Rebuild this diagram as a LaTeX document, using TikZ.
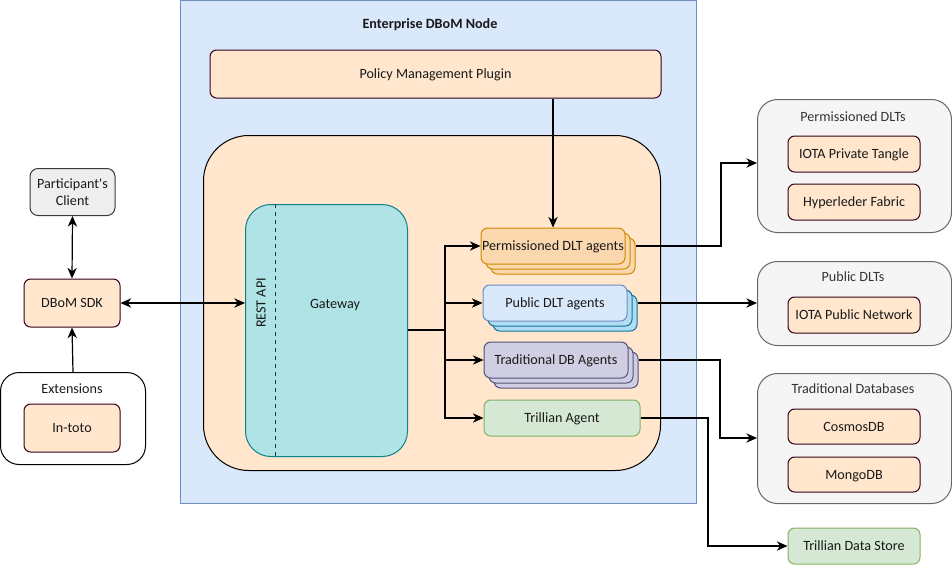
\documentclass[tikz,border=0pt]{standalone}
\usepackage{fontspec}
\setmainfont{Carlito}[Ligatures=TeXOff]
\usetikzlibrary{arrows.meta}
\definecolor{bfill}{HTML}{DAE8FC}
\definecolor{bstroke}{HTML}{6C8EBF}
\definecolor{peach}{HTML}{FFE6CC}
\definecolor{maroon}{HTML}{330019}
\definecolor{ofill}{HTML}{FAD7AC}
\definecolor{ostroke}{HTML}{D08A00}
\definecolor{lbfill}{HTML}{B1DDF0}
\definecolor{lbstroke}{HTML}{10739E}
\definecolor{pfill}{HTML}{D0CEE2}
\definecolor{pstroke}{HTML}{56517E}
\definecolor{gfill}{HTML}{D5E8D4}
\definecolor{gstroke}{HTML}{82B366}
\definecolor{grfill}{HTML}{F5F5F5}
\definecolor{grstroke}{HTML}{666666}
\definecolor{grtext}{HTML}{333333}
\definecolor{clfill}{HTML}{EEEEEE}
\definecolor{clstroke}{HTML}{36393D}
\definecolor{gwfill}{HTML}{B0E3E6}
\definecolor{gwstroke}{HTML}{0E8088}
\tikzset{
  every node/.style={font=\fontsize{10.6}{12.5}\selectfont, inner sep=0pt, text=black!90},
  lowtext/.style={text depth=0pt},
  wh/.style 2 args={minimum width=#1*0.75pt, minimum height=#2*0.75pt},
  box/.style={draw=maroon, fill=peach, rounded corners=5pt, line width=0.75pt, lowtext},
  grp/.style={draw=grstroke, fill=grfill, rounded corners=15pt, line width=0.75pt},
  grptitle/.style={text=grtext},
  agent/.style={rounded corners=5pt, line width=0.75pt, wh={144}{36}, lowtext},
  conn/.style={line width=0.9pt, draw=black},
  arr/.style={conn, -{Stealth[length=8pt,width=7pt,inset=2.5pt]}},
  darr/.style={conn, {Stealth[length=8pt,width=7pt,inset=2.5pt]}-{Stealth[length=8pt,width=7pt,inset=2.5pt]}}
}
\begin{document}
\begin{tikzpicture}[x=0.75pt,y=-0.75pt]
\useasboundingbox (0,0) rectangle (952,565);

% Enterprise node
\node[draw=bstroke, fill=bfill, line width=0.75pt, wh={516}{503}, anchor=north west] (ent) at (180,0) {};
\node[font=\fontsize{10.6}{12.5}\selectfont\bfseries] (enttitle) at (430,25) {Enterprise DBoM Node};
\node[box, wh={451}{48}] (pmp) at (435.5,74) {Policy Management Plugin};
\node[draw=black, fill=peach, rounded corners=34pt, line width=0.75pt, wh={457}{335}, anchor=north west] (core) at (203,135) {};

% Gateway
\node[draw=gwstroke, fill=gwfill, rounded corners=19pt, line width=0.75pt, wh={162}{252}, anchor=north west] (gw) at (245,204) {};
\draw[dashed, line width=0.75pt, draw=black!80] ([xshift=22.5pt]gw.north west) -- ([xshift=22.5pt]gw.south west);
\node[rotate=90] (rest) at (261,303) {REST API};
\node[lowtext] (gwlabel) at (335,304) {Gateway};

% Permissioned DLT agents (stack)
\node[agent, draw=ostroke, fill=ofill] (pa2) at (563,256) {};
\node[agent, draw=ostroke, fill=ofill] (pa1) at (558,251) {};
\node[agent, draw=ostroke, fill=ofill] (pa) at (553,246) {Permissioned DLT agents};

% Public DLT agents (stack)
\node[agent, draw=lbstroke, fill=lbfill] (pu2) at (565,313) {};
\node[agent, draw=lbstroke, fill=lbfill] (pu1) at (560,308) {};
\node[agent, draw=bstroke, fill=bfill] (pu) at (555,303) {Public DLT agents};

% Traditional DB Agents (stack)
\node[agent, draw=pstroke, fill=pfill] (td2) at (566,370) {};
\node[agent, draw=pstroke, fill=pfill] (td1) at (561,365) {};
\node[agent, draw=pstroke, fill=pfill] (td) at (556,360) {Traditional DB Agents};

% Trillian Agent
\node[agent, draw=gstroke, fill=gfill, wh={156}{36}] (ta) at (562,418) {Trillian Agent};

% Left side
\node[draw=clstroke, fill=clfill, rounded corners=6pt, line width=0.75pt, wh={85}{47}, align=center] (client) at (72.5,192) {Participant's\\Client};
\node[box, wh={96}{48}] (sdk) at (72,303) {DBoM SDK};
\node[draw=black, fill=white, rounded corners=14pt, line width=0.75pt, wh={145}{92}, anchor=north west] (ext) at (0,372) {};
\node[lowtext] (exttitle) at (72,389) {Extensions};
\node[box, wh={96}{48}] (intoto) at (72,428) {In-toto};

% Right groups
\node[grp, wh={194}{133}, anchor=north west] (pdlt) at (757,99) {};
\node[grptitle, lowtext] (pdlttitle) at (853,117) {Permissioned DLTs};
\node[box, wh={132}{36}] (iotapriv) at (854,154) {IOTA Private Tangle};
\node[box, wh={132}{36}] (hlf) at (854,202) {Hyperleder Fabric};

\node[grp, wh={194}{84}, anchor=north west] (pubdlt) at (757,261) {};
\node[grptitle, lowtext] (pubdlttitle) at (853,277) {Public DLTs};
\node[box, wh={132}{36}] (iotapub) at (854,315) {IOTA Public Network};

\node[grp, wh={194}{130}, anchor=north west] (tdb) at (757,373) {};
\node[grptitle, lowtext] (tdbtitle) at (853,389) {Traditional Databases};
\node[box, wh={132}{35}] (cosmos) at (854,426.5) {CosmosDB};
\node[box, wh={132}{35}] (mongo) at (854,474.5) {MongoDB};

\node[draw=gstroke, fill=gfill, rounded corners=5pt, line width=0.75pt, wh={132}{36}, lowtext] (tds) at (854,546) {Trillian Data Store};

% Connectors
\draw[darr] (client.south) -- (sdk.north);
\draw[arr] (ext.north) -- (sdk.south);
\draw[darr] (sdk.east) -- (sdk.east -| gw.west);
\draw[arr] (pmp.south -| pa.north) -- (pa.north);

\coordinate (trunk) at (445,330);
\draw[conn] (gw.east |- trunk) -- (trunk);
\draw[arr] (trunk) |- (pa.west);
\draw[arr] (445,246) |- (pu.west);
\draw[arr] (trunk) |- (td.west);
\draw[arr] (trunk) |- (ta.west);

\draw[arr] (pa.east -| pa2.east) -- (721,246) |- (pdlt.west |- 0,163);
\draw[arr] (pu.east -| pu2.east) -- (pubdlt.west |- pu.east);
\draw[arr] (td.east -| td2.east) -- (720,360) |- (tdb.west |- 0,438);
\draw[arr] (ta.east) -- (708,418) |- (tds.west);
\end{tikzpicture}
\end{document}
